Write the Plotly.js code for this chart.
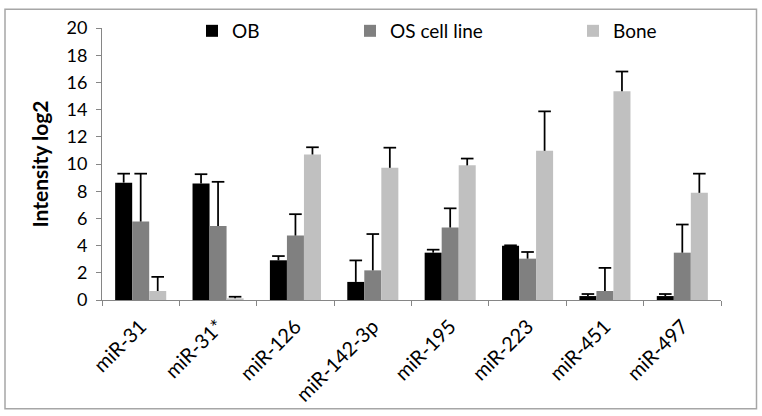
<!DOCTYPE html>
<html>
<head>
<meta charset="utf-8">
<script src="https://cdn.plot.ly/plotly-3.0.1.min.js"></script>
<style>
  html, body { margin: 0; padding: 0; background: #ffffff; }
  #chart { width: 762px; height: 416px; }
</style>
</head>
<body>
<div id="chart"></div>
<script>
// ---- data ----
const categories = ["miR-31", "miR-31*", "miR-126", "miR-142-3p", "miR-195", "miR-223", "miR-451", "miR-497"];
const seriesNames = ["OB", "OS cell line", "Bone"];

const obValues   = [8.63, 8.56, 2.92, 1.33, 3.48, 3.99, 0.29, 0.29];
const obErrTop   = [9.29, 9.25, 3.23, 2.91, 3.70, 4.02, 0.44, 0.44];

const osValues   = [5.77, 5.45, 4.74, 2.18, 5.33, 3.04, 0.66, 3.48];
const osErrTop   = [9.29, 8.69, 6.31, 4.85, 6.74, 3.53, 2.36, 5.55];

const boneValues = [0.66, 0.12, 10.70, 9.72, 9.90, 10.97, 15.35, 7.88];
const boneErrTop = [1.70, 0.24, 11.23, 11.20, 10.40, 13.87, 16.80, 9.29];

const yTickVals = [0, 2, 4, 6, 8, 10, 12, 14, 16, 18, 20];

// ---- styling ----
const colors = ["#000000", "#808080", "#c0c0c0"];
const FONT = "Lato, 'Open Sans', sans-serif";
const values = [obValues, osValues, boneValues];
const tops = [obErrTop, osErrTop, boneErrTop];
const legendIds = ["legend", "legend2", "legend3"];

const traces = [];
// bars with the error stems (upward only)
for (let s = 0; s < 3; s++) {
  const plus = tops[s].map((t, i) => Math.max(0, t - values[s][i]));
  traces.push({
    type: "bar",
    name: seriesNames[s],
    x: categories,
    y: values[s],
    legend: legendIds[s],
    marker: { color: colors[s], line: { width: 0 } },
    error_y: {
      type: "data", symmetric: false,
      array: plus, arrayminus: categories.map(() => 0),
      color: "#000000", thickness: 1.75, width: 0
    },
    hoverinfo: "x+y+name"
  });
}
// caps of the error bars, grouped like the bars
for (let s = 0; s < 3; s++) {
  traces.push({
    type: "scatter",
    mode: "markers",
    x: categories,
    y: tops[s],
    showlegend: false,
    hoverinfo: "skip",
    marker: { symbol: "line-ew", size: 9, color: "#000000",
              line: { color: "#000000", width: 1.75 } },
    cliponaxis: false
  });
}

const L = 102, R = 41, T = 25, B = 116;
const plotW = 762 - L - R, plotH = 416 - T - B;
const px2x = p => (p - L) / plotW;
const py2y = p => (416 - B - p) / plotH;

function legendAt(pxLeft) {
  return {
    x: px2x(pxLeft), xanchor: "left",
    y: py2y(28), yanchor: "middle",
    orientation: "h",
    bgcolor: "rgba(0,0,0,0)",
    font: { family: FONT, size: 19, color: "#000000" },
    itemclick: false, itemdoubleclick: false
  };
}

const layout = {
  width: 762, height: 416,
  margin: { l: L, r: R, t: T, b: B, pad: 0 },
  paper_bgcolor: "#ffffff",
  plot_bgcolor: "#ffffff",
  font: { family: FONT, size: 18, color: "#000000" },
  barmode: "group",
  bargap: 0.34,
  bargroupgap: 0,
  scattermode: "group",
  scattergap: 0.34,
  showlegend: true,
  legend: legendAt(192),
  legend2: legendAt(350),
  legend3: legendAt(573),
  xaxis: {
    type: "category",
    tickangle: -45,
    showline: true, linecolor: "#868686", linewidth: 1,
    ticks: "outside", tickson: "boundaries", ticklen: 5, tickcolor: "#868686",
    showgrid: false, zeroline: false,
    tickfont: { family: FONT, size: 20, color: "#000000" },
    ticklabelstandoff: 6,
    fixedrange: true
  },
  yaxis: {
    range: [0, 20],
    tickvals: yTickVals,
    ticktext: yTickVals.map(String),
    showline: true, linecolor: "#868686", linewidth: 1,
    ticks: "outside", ticklen: 5, tickcolor: "#868686",
    showgrid: false, zeroline: false,
    tickfont: { family: FONT, size: 18, color: "#000000" },
    ticklabelstandoff: 5,
    title: { text: "<b>Intensity log2</b>", font: { family: FONT, size: 21, color: "#000000" }, standoff: 12 },
    fixedrange: true
  },
  shapes: [{
    type: "rect", xref: "paper", yref: "paper",
    x0: px2x(5), x1: px2x(756.5), y0: py2y(410), y1: py2y(6),
    line: { color: "#a6a6a6", width: 1.5 }, fillcolor: "rgba(0,0,0,0)", layer: "below"
  }]
};

Plotly.newPlot("chart", traces, layout, { displayModeBar: false, staticPlot: true });
</script>
</body>
</html>
